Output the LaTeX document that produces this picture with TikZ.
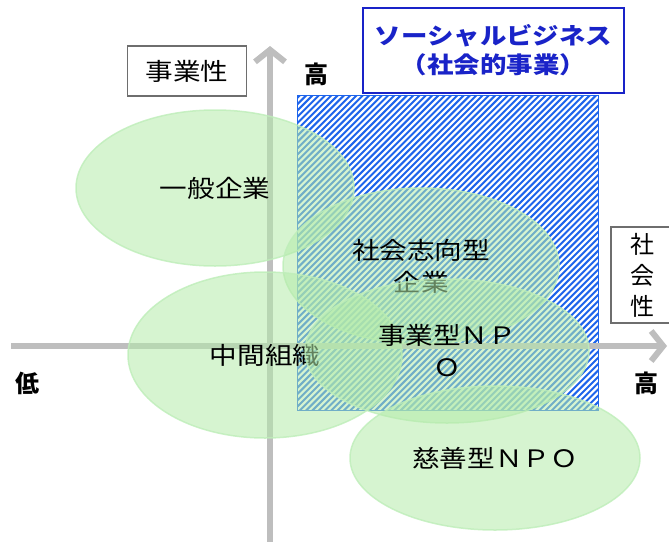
\documentclass[tikz,border=0pt]{standalone}
\usepackage{fontspec}
\setmainfont{Noto Sans CJK JP}
\usepackage{graphicx}
\usetikzlibrary{arrows.meta,shapes.geometric}
\definecolor{axisgray}{RGB}{190,190,190}
\definecolor{hatchblue}{RGB}{30,100,235}
\definecolor{titleblue}{RGB}{25,35,200}
\definecolor{ellfill}{RGB}{180,235,170}
\definecolor{elldraw}{RGB}{190,238,185}
\definecolor{boxgray}{RGB}{110,110,110}
\newcommand\wj[1]{\scalebox{1.15}[1]{#1}}
\begin{document}
\begin{tikzpicture}[x=1pt,y=-1pt,
  axis/.style={axisgray, line width=6pt, -{Straight Barb[length=12pt,width=30pt]}},
  ell/.style={ellipse, draw=elldraw, fill=ellfill, fill opacity=0.55, draw opacity=0.8,
    text opacity=1, line width=1.5pt, inner sep=0pt, align=center,
    font=\fontsize{24}{32}\selectfont},
  lbl/.style={font=\fontsize{24}{28}\selectfont\bfseries, inner sep=0pt},
  graybox/.style={draw=boxgray, line width=1.2pt, fill=white, inner sep=0pt, align=center,
    font=\fontsize{24}{31}\selectfont}]
\useasboundingbox (0,0) rectangle (669,541);
% hatched social-business area
\begin{scope}
  \clip (297,95) rectangle (598,410);
  \foreach \i in {0,...,102}
    \draw[hatchblue, line width=2.0pt] ({297-320+\i*6.3},412) -- ++(340,-340);
\end{scope}
\draw[hatchblue, line width=1pt] (297,95) rectangle (598,410);
% axes
\coordinate (vb) at (270,545);
\coordinate (vt) at (270,46);
\coordinate (hl) at (11,346);
\coordinate (hr) at (667,346);
\draw[axis] (vb) -- (vt);
\draw[axis] (hl) -- (hr);
% ellipses
\node[ell, minimum width=278, minimum height=156] (ippan) at (215,188) {\wj{一般企業}};
\node[ell, minimum width=276, minimum height=156] (shakai) at (421,266) {\wj{社会志向型}\\\wj{企業}};
\node[ell, minimum width=274, minimum height=166] (chukan) at (265,355) {\wj{中間組織}};
\node[ell, minimum width=284, minimum height=144] (jigyo) at (447,351) {\wj{事業型ＮＰ}\\\wj{Ｏ}};
\node[ell, minimum width=290, minimum height=144] (jizen) at (495,458) {\wj{慈善型ＮＰＯ}};
% boxes and labels
\node[graybox, minimum width=119, minimum height=50] (jgs) at (187,71) {\wj{事業性}};
\node[draw=titleblue, fill=white, line width=1.5pt, minimum width=261, minimum height=85,
  inner sep=0pt, align=center, text=titleblue, font=\fontsize{23}{29}\selectfont\bfseries]
  (sb) at (493.5,50.5) {\wj{ソーシャルビジネス}\\\wj{（社会的事業）}};
\node[graybox, minimum width=62, minimum height=96] (shs) at (642,275) {社\\会\\性};
\node[lbl] (vhigh) at (316,74) {高};
\node[lbl] (hlow) at (28,383) {低};
\node[lbl] (hhigh) at (646,383) {高};
\end{tikzpicture}
\end{document}
